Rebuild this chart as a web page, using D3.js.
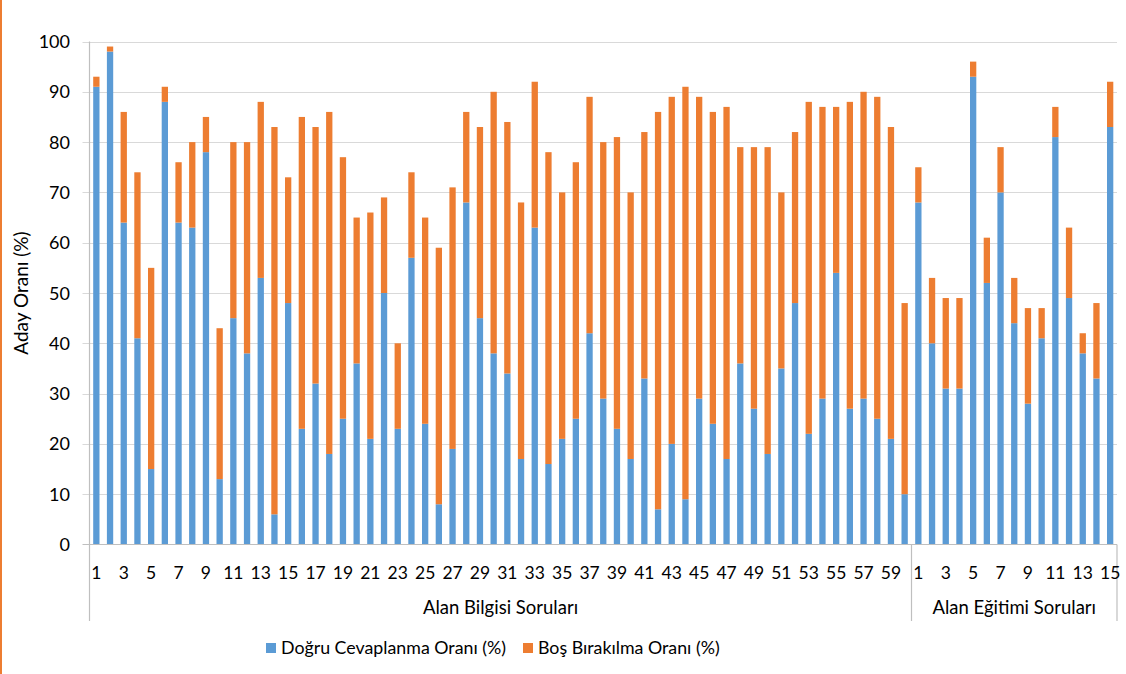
<!DOCTYPE html>
<html>
<head>
<meta charset="utf-8">
<script src="https://cdn.jsdelivr.net/npm/d3@7/dist/d3.min.js"></script>
<style>
  html, body { margin: 0; padding: 0; background: #fff; }
  svg { display: block; font-family: "Lato", "Open Sans", sans-serif; }
</style>
</head>
<body>
<svg id="chart" width="1126" height="674"></svg>
<script>
// ---- Data ----
const groupNames = ["Alan Bilgisi Soruları", "Alan Eğitimi Soruları"];
const seriesNames = ["Doğru Cevaplanma Oranı (%)", "Boş Bırakılma Oranı (%)"];

const bilgisiDogru = [91,98,64,41,15,88,64,63,78,13, 45,38,53,6,48,23,32,18,25,36,
                      21,50,23,57,24,8,19,68,45,38, 34,17,63,16,21,25,42,29,23,17,
                      33,7,20,9,29,24,17,36,27,18, 35,48,22,29,54,27,29,25,21,10];
const bilgisiBos   = [2,1,22,33,40,3,12,17,7,30, 35,42,35,77,25,62,51,68,52,29,
                      45,19,17,17,41,51,52,18,38,52, 50,51,29,62,49,51,47,51,58,53,
                      49,79,69,82,60,62,70,43,52,61, 35,34,66,58,33,61,61,64,62,38];
const egitimiDogru = [68,40,31,31,93,52,70,44,28,41,81,49,38,33,83];
const egitimiBos   = [7,13,18,18,3,9,9,9,19,6,6,14,4,15,9];

const yTicks = [0,10,20,30,40,50,60,70,80,90,100];

// ---- Build records ----
const records = [];
bilgisiDogru.forEach((d, i) => records.push({key: "B" + (i+1), label: String(i+1), group: 0, dogru: d, bos: bilgisiBos[i]}));
egitimiDogru.forEach((d, i) => records.push({key: "E" + (i+1), label: String(i+1), group: 1, dogru: d, bos: egitimiBos[i]}));

const stack = d3.stack().keys(["dogru", "bos"]);
const stacked = stack(records);

// ---- Layout ----
const svg = d3.select("#chart");
const colors = ["#5B9BD5", "#ED7D31"];
const plotLeft = 89.5, plotRight = 1117, yTop = 41.5, yBottom = 544.5;

const x = d3.scaleBand()
  .domain(records.map(d => d.key))
  .range([plotLeft, plotRight])
  .paddingInner(0.54)
  .paddingOuter(0.27);

const y = d3.scaleLinear().domain([0, 100]).range([yBottom, yTop]);

// left orange border
svg.append("rect").attr("x", 0).attr("y", 0).attr("width", 2).attr("height", 674).attr("fill", "#ED7D31");

// gridlines
svg.append("g").selectAll("line")
  .data(yTicks.filter(t => t > 0))
  .join("line")
  .attr("x1", plotLeft - 7).attr("x2", plotRight)
  .attr("y1", d => Math.round(y(d)) + 0.5).attr("y2", d => Math.round(y(d)) + 0.5)
  .attr("stroke", "#D9D9D9").attr("stroke-width", 1.2);

// y tick labels
svg.append("g").selectAll("text")
  .data(yTicks)
  .join("text")
  .attr("x", 70)
  .attr("y", d => y(d) + 6.5)
  .attr("text-anchor", "end")
  .attr("font-size", 18)
  .attr("fill", "#000")
  .text(d => d);

// y title
svg.append("text")
  .attr("transform", "translate(28,293) rotate(-90)")
  .attr("text-anchor", "middle")
  .attr("font-size", 19)
  .attr("fill", "#000")
  .text("Aday Oranı (%)");

// bars
svg.append("g").selectAll("g")
  .data(stacked)
  .join("g")
  .attr("fill", (d, i) => colors[i])
  .selectAll("rect")
  .data(d => d)
  .join("rect")
  .attr("x", d => x(d.data.key))
  .attr("width", x.bandwidth())
  .attr("y", d => y(d[1]))
  .attr("height", d => y(d[0]) - y(d[1]));

// x axis line (0 line)
svg.append("line")
  .attr("x1", plotLeft - 7).attr("x2", plotRight)
  .attr("y1", yBottom).attr("y2", yBottom)
  .attr("stroke", "#BFBFBF").attr("stroke-width", 1.2);

// y axis line
svg.append("line")
  .attr("x1", plotLeft).attr("x2", plotLeft)
  .attr("y1", yTop).attr("y2", 621)
  .attr("stroke", "#BFBFBF").attr("stroke-width", 1.2);

// group separators
const step = x.step();
const firstE = records.findIndex(r => r.group === 1);
const sepX = [plotLeft + firstE * step, plotRight];
svg.append("g").selectAll("line")
  .data(sepX)
  .join("line")
  .attr("x1", d => d).attr("x2", d => d)
  .attr("y1", yBottom).attr("y2", 621)
  .attr("stroke", "#BFBFBF").attr("stroke-width", 1.2);

// x tick labels (every other)
svg.append("g").selectAll("text")
  .data(records.filter((r, i) => i % 2 === 0))
  .join("text")
  .attr("x", d => x(d.key) + x.bandwidth() / 2)
  .attr("y", 579)
  .attr("text-anchor", "middle")
  .attr("font-size", 17.5)
  .attr("fill", "#000")
  .text(d => d.label);

// group labels
const groupBounds = [[plotLeft, sepX[0]], [sepX[0], plotRight]];
svg.append("g").selectAll("text")
  .data(groupNames)
  .join("text")
  .attr("x", (d, i) => (groupBounds[i][0] + groupBounds[i][1]) / 2)
  .attr("y", 614)
  .attr("text-anchor", "middle")
  .attr("font-size", 18.5)
  .attr("fill", "#000")
  .text(d => d);

// legend
const legendX = [266, 523];
const lg = svg.append("g").selectAll("g")
  .data(seriesNames)
  .join("g")
  .attr("transform", (d, i) => `translate(${legendX[i]},643)`);
lg.append("rect").attr("width", 10).attr("height", 10).attr("fill", (d, i) => colors[i]);
lg.append("text").attr("x", 15).attr("y", 11).attr("font-size", 17.8).attr("fill", "#000").text(d => d);
</script>
</body>
</html>
